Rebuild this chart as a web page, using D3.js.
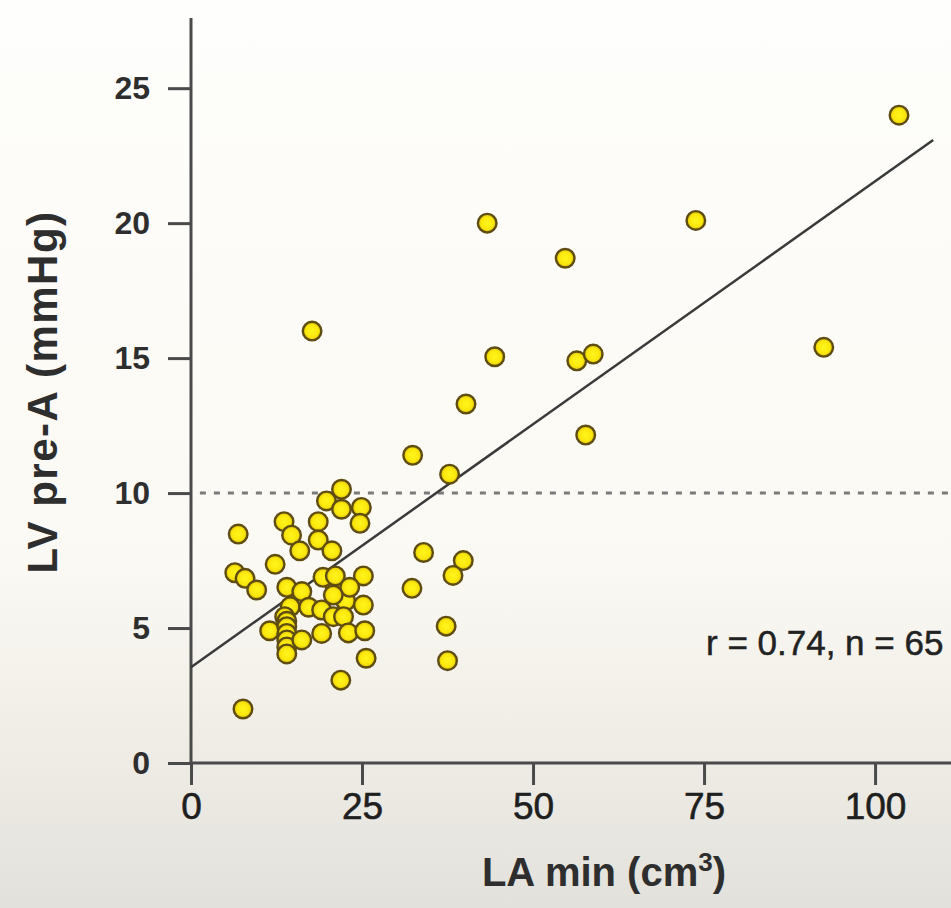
<!DOCTYPE html>
<head>
  <meta charset="utf-8">
  <script src="https://d3js.org/d3.v7.min.js"></script>
  <style>
    body { margin: 0; }
    svg { display: block; }
  </style>
</head>
<body>
  <svg></svg>
  <script>
    // LA min (cm3) vs LV pre-A (mmHg)
    var laMin = [103.5, 73.8, 43.3, 54.7, 17.7, 44.4, 56.4, 58.8, 92.5, 40.2,
      57.7, 32.4, 37.8, 34.0, 39.8, 38.3, 32.3, 37.3, 37.5, 7.6,
      21.0, 22.6,
      22.0, 19.8, 22.0, 24.9, 24.7, 6.9, 13.6, 18.6, 14.7, 18.6,
      15.9, 20.6, 12.3, 6.4, 7.9, 9.6, 14.0, 16.2, 19.3, 21.1,
      25.2, 23.2, 20.8, 25.2, 14.5, 17.2, 19.1, 20.8, 22.3, 13.7,
      11.5, 14.0, 14.0, 14.0, 14.0, 14.0, 16.2, 19.1, 23.0, 25.4,
      14.0, 25.6, 21.9];
    var lvPreA = [24.0, 20.1, 20.0, 18.7, 16.0, 15.05, 14.9, 15.15, 15.4, 13.3,
      12.15, 11.4, 10.7, 7.8, 7.5, 6.95, 6.47, 5.07, 3.79, 2.0,
      6.6, 6.0,
      10.14, 9.71, 9.4, 9.47, 8.88, 8.48, 8.94, 8.94, 8.44, 8.26,
      7.86, 7.86, 7.36, 7.05, 6.84, 6.41, 6.51, 6.35, 6.88, 6.93,
      6.93, 6.51, 6.22, 5.85, 5.79, 5.77, 5.67, 5.42, 5.42, 5.42,
      4.9, 5.25, 5.05, 4.8, 4.56, 4.3, 4.56, 4.8, 4.82, 4.9,
      4.04, 3.88, 3.07];
    var xTicks = [0, 25, 50, 75, 100];
    var yTicks = [0, 5, 10, 15, 20, 25];
    var fitIntercept = 3.55, fitSlope = 0.18, fitEnd = 108.5;
    var cutoff = 10;
    var statText = 'r = 0.74, n = 65';

    var width = 951, height = 908;
    var x0 = 191, yBase = 763;

    var svg = d3.select('svg').attr('width', width).attr('height', height);

    var defs = svg.append('defs');
    var bg = defs.append('linearGradient').attr('id', 'bg')
      .attr('x1', 0).attr('y1', 0).attr('x2', 0).attr('y2', 1);
    bg.append('stop').attr('offset', '0').attr('stop-color', '#fefefc');
    bg.append('stop').attr('offset', '0.62').attr('stop-color', '#fbf9f3');
    bg.append('stop').attr('offset', '0.8').attr('stop-color', '#f0eee7');
    bg.append('stop').attr('offset', '1').attr('stop-color', '#e3e1db');
    var dotFill = defs.append('radialGradient').attr('id', 'dot');
    dotFill.append('stop').attr('offset', '0').attr('stop-color', '#fff51c');
    dotFill.append('stop').attr('offset', '0.65').attr('stop-color', '#fbe80c');
    dotFill.append('stop').attr('offset', '1').attr('stop-color', '#d9bd08');

    svg.append('rect').attr('width', width).attr('height', height).attr('fill', 'url(#bg)');

    var xScale = d3.scaleLinear().domain([0, 111.1]).range([x0, width]);
    var yScale = d3.scaleLinear().domain([0, 27.6]).range([yBase, 18]);

    var axisColor = '#4a4a4a';

    // y axis
    var yAxis = d3.axisLeft(yScale).tickValues(yTicks).tickSize(23).tickPadding(18);
    var gy = svg.append('g').attr('transform', 'translate(' + x0 + ',0)').call(yAxis);
    gy.select('.domain').remove();
    gy.selectAll('.tick line').attr('stroke', axisColor).attr('stroke-width', 3);
    gy.selectAll('.tick text')
      .attr('fill', '#2e2e2e')
      .style('font-family', 'Liberation Sans, Arial, sans-serif')
      .style('font-size', '32px').style('font-weight', 'bold');
    svg.append('line')
      .attr('x1', x0).attr('x2', x0)
      .attr('y1', yScale.range()[1]).attr('y2', yBase)
      .attr('stroke', axisColor).attr('stroke-width', 3);

    // x axis
    var xAxis = d3.axisBottom(xScale).tickValues(xTicks).tickSize(22).tickPadding(8);
    var gx = svg.append('g').attr('transform', 'translate(0,' + yBase + ')').call(xAxis);
    gx.select('.domain').remove();
    gx.selectAll('.tick line').attr('stroke', axisColor).attr('stroke-width', 3);
    gx.selectAll('.tick text')
      .attr('fill', '#1f1f1f')
      .attr('stroke', '#1f1f1f').attr('stroke-width', 0.6)
      .style('font-family', 'Liberation Sans, Arial, sans-serif')
      .style('font-size', '37px');
    svg.append('line')
      .attr('x1', x0).attr('x2', width)
      .attr('y1', yBase).attr('y2', yBase)
      .attr('stroke', axisColor).attr('stroke-width', 3);

    // cutoff dashed line
    svg.append('line')
      .attr('x1', xScale(1.3)).attr('x2', width)
      .attr('y1', yScale(cutoff)).attr('y2', yScale(cutoff))
      .attr('stroke', '#7a7a7a').attr('stroke-width', 3)
      .attr('stroke-dasharray', '6,8');

    // regression line
    svg.append('line')
      .attr('x1', xScale(0)).attr('y1', yScale(fitIntercept))
      .attr('x2', xScale(fitEnd)).attr('y2', yScale(fitIntercept + fitSlope * fitEnd))
      .attr('stroke', '#3a3a3a').attr('stroke-width', 2.5);

    // points
    var data = laMin.map(function (d, i) { return { x: d, y: lvPreA[i] }; });
    svg.append('g').selectAll('circle')
      .data(data)
      .enter()
      .append('circle')
      .attr('cx', function (d) { return xScale(d.x); })
      .attr('cy', function (d) { return yScale(d.y); })
      .attr('r', 9.3)
      .attr('fill', 'url(#dot)')
      .attr('stroke', '#5e4c10')
      .attr('stroke-width', 2.4);

    // stats
    svg.append('text')
      .attr('x', 706).attr('y', 655)
      .attr('fill', '#222')
      .attr('stroke', '#222').attr('stroke-width', 0.5)
      .style('font-family', 'Liberation Sans, Arial, sans-serif')
      .style('font-size', '35px')
      .text(statText);

    // axis titles
    var xTitle = svg.append('text')
      .attr('x', 604).attr('y', 886)
      .attr('text-anchor', 'middle')
      .attr('fill', '#2e2e2e')
      .style('font-family', 'Liberation Sans, Arial, sans-serif')
      .style('font-size', '40px').style('font-weight', 'bold');
    xTitle.append('tspan').text('LA min (cm');
    xTitle.append('tspan').attr('dy', -15).style('font-size', '26px').text('3');
    xTitle.append('tspan').attr('dy', 15).text(')');

    svg.append('text')
      .attr('transform', 'translate(57,392) rotate(-90)')
      .attr('text-anchor', 'middle')
      .attr('fill', '#2e2e2e')
      .style('font-family', 'Liberation Sans, Arial, sans-serif')
      .style('font-size', '42px').style('font-weight', 'bold')
      .style('letter-spacing', '1.5px')
      .text('LV pre-A (mmHg)');
  </script>
</body>
